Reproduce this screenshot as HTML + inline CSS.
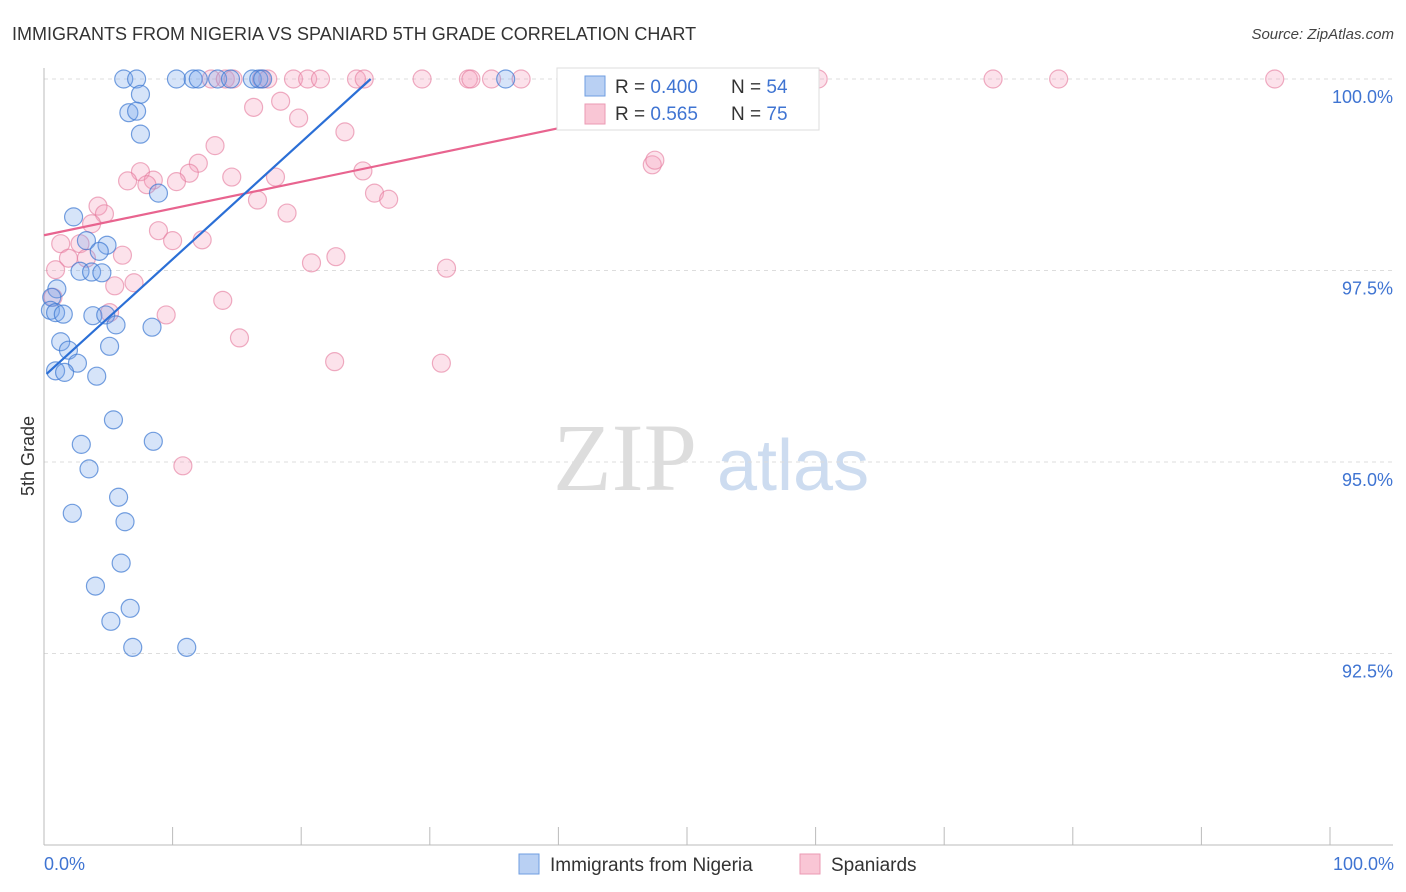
<!DOCTYPE html>
<html><head><meta charset="utf-8">
<style>
body{margin:0;background:#fff;font-family:"Liberation Sans",sans-serif;}
svg{display:block}
</style></head>
<body>
<svg id="chart" width="1406" height="892" xmlns="http://www.w3.org/2000/svg" font-family="Liberation Sans, sans-serif">
<text x="12" y="40" font-size="18" fill="#333">IMMIGRANTS FROM NIGERIA VS SPANIARD 5TH GRADE CORRELATION CHART</text>
<text x="1394" y="39" font-size="15" fill="#444" text-anchor="end" font-style="italic">Source: ZipAtlas.com</text>
<text x="553" y="490" font-size="96" fill="#ddd" font-family="Liberation Serif, serif">ZIP</text>
<text x="717" y="490" font-size="72" fill="#cddcf0">atlas</text>
<g id="grid"></g>
<g id="axes"></g>
<g id="pinkpts"></g>
<g id="bluepts"></g>
<g id="trends"></g>
<text transform="translate(34,456) rotate(-90)" font-size="18" fill="#333" text-anchor="middle">5th Grade</text>
<g>
<rect x="557" y="68" width="262" height="62" fill="#fff" stroke="#ddd"/>
<rect x="585" y="76" width="20" height="20" fill="#b9d0f3" stroke="#6f9ee0"/>
<rect x="585" y="104" width="20" height="20" fill="#f9c6d5" stroke="#eb9ab3"/>
<text x="615" y="93" font-size="19" fill="#333">R = <tspan fill="#3f74d2">0.400</tspan></text>
<text x="731" y="93" font-size="19" fill="#333">N = <tspan fill="#3f74d2">54</tspan></text>
<text x="615" y="120" font-size="19" fill="#333">R = <tspan fill="#3f74d2"> 0.565</tspan></text>
<text x="731" y="120" font-size="19" fill="#333">N = <tspan fill="#3f74d2">75</tspan></text>
</g>
<g>
<rect x="519" y="854" width="20" height="20" fill="#b9d0f3" stroke="#6f9ee0"/>
<text x="550" y="871" font-size="19" fill="#333">Immigrants from Nigeria</text>
<rect x="800" y="854" width="20" height="20" fill="#f9c6d5" stroke="#eb9ab3"/>
<text x="831" y="871" font-size="19" fill="#333">Spaniards</text>
</g>
</svg>
<script>
const yTicks=[100,97.5,95,92.5];
const yTickLabels=["100.0%","97.5%","95.0%","92.5%"];
const xTickLabels=["0.0%","100.0%"];
const blueX=[6.2,7.2,10.3,11.6,12.0,13.5,14.5,16.2,16.7,17.0,35.9,7.5,6.6,7.2,7.5,8.9,2.3,3.3,4.9,4.3,2.8,3.7,4.5,1.0,0.6,0.5,0.9,1.5,3.8,4.8,5.6,8.4,5.1,1.3,1.9,2.6,0.9,1.6,4.1,5.4,2.9,8.5,3.5,5.8,2.2,6.3,6.0,4.0,6.7,5.2,6.9,11.1];
const blueY=[100,100,100,100,100,100,100,100,100,100,100,99.8,99.56,99.58,99.28,98.51,98.2,97.89,97.83,97.75,97.49,97.48,97.47,97.26,97.15,96.98,96.95,96.93,96.91,96.92,96.79,96.76,96.51,96.57,96.46,96.29,96.19,96.17,96.12,95.55,95.23,95.27,94.91,94.54,94.33,94.22,93.68,93.38,93.09,92.92,92.58,92.58];
const pinkX=[13.0,14.1,14.7,16.9,17.4,19.4,20.5,21.5,24.3,24.9,29.4,33.0,33.2,34.8,37.1,40.7,41.4,43.3,45.4,50.6,52.0,57.2,60.2,73.8,78.9,95.7,16.3,18.4,19.8,23.4,13.3,12.0,7.5,11.3,6.5,8.5,8.0,10.3,14.6,18.0,24.8,16.6,25.7,26.8,18.9,4.2,4.7,3.7,8.9,10.0,12.3,1.3,2.8,6.1,1.9,3.3,20.8,22.7,31.3,0.9,5.5,7.0,0.7,13.9,5.1,9.5,15.2,22.6,30.9,10.8,47.3,47.5];
const pinkY=[100,100,100,100,100,100,100,100,100,100,100,100,100,100,100,100,100,100,100,100,100,100,100,100,100,100,99.63,99.71,99.49,99.31,99.13,98.9,98.79,98.77,98.67,98.68,98.62,98.66,98.72,98.72,98.8,98.42,98.51,98.43,98.25,98.34,98.24,98.11,98.02,97.89,97.9,97.85,97.85,97.7,97.66,97.66,97.6,97.68,97.53,97.51,97.3,97.34,97.15,97.11,96.95,96.92,96.62,96.31,96.29,94.95,98.88,98.94];
const blueTrendX=[0.2,25.4], blueTrendY=[96.15,100];
const pinkTrendX=[0,58.4], pinkTrendY=[97.96,100];

const NS="http://www.w3.org/2000/svg";
const X0=44,X1=1330,YTOP=79,PXPER=76.6;
const sx=v=>X0+(X1-X0)*v/100;
const sy=v=>YTOP+(100-v)*PXPER;
function mk(tag,attrs,parent){const e=document.createElementNS(NS,tag);for(const k in attrs)e.setAttribute(k,attrs[k]);parent.appendChild(e);return e;}
const grid=document.getElementById('grid'),axes=document.getElementById('axes');
yTicks.forEach((t,i)=>{
  const l=mk('line',{x1:44,x2:1393,y1:sy(t),y2:sy(t),stroke:'#ddd','stroke-dasharray':'4,4'},grid);
  
  
  const tx=mk('text',{x:1393,y:sy(t)+24,'font-size':18,fill:'#3f74d2','text-anchor':'end'},axes);
  tx.textContent=yTickLabels[i];
  
  
});
const ya=mk('line',{x1:44,x2:44,y1:68,y2:845,stroke:'#bbb'},axes);


const xa=mk('line',{x1:44,x2:1393,y1:845,y2:845,stroke:'#bbb'},axes);


for(let i=0;i<=10;i++){
  const t=mk('line',{x1:sx(i*10),x2:sx(i*10),y1:827,y2:845,stroke:'#bbb'},axes);
  
  
}
[[0,'start',44],[100,'end',1394]].forEach((d,i)=>{
  const tx=mk('text',{x:d[2],y:870,'font-size':18,fill:'#3f74d2','text-anchor':d[1]},axes);
  tx.textContent=xTickLabels[i];
  
  
});
const pg=document.getElementById('pinkpts'),bg=document.getElementById('bluepts');
pinkX.forEach((x,i)=>{
  const c=mk('circle',{cx:sx(x),cy:sy(pinkY[i]),r:9,fill:'rgba(244,160,188,0.3)',stroke:'rgba(228,120,155,0.6)','stroke-width':1.2},pg);
  
  
});
blueX.forEach((x,i)=>{
  const c=mk('circle',{cx:sx(x),cy:sy(blueY[i]),r:9,fill:'rgba(120,165,235,0.3)',stroke:'rgba(60,120,210,0.7)','stroke-width':1.2},bg);
  
  
});
const tg=document.getElementById('trends');
const pl=mk('line',{x1:sx(pinkTrendX[0]),y1:sy(pinkTrendY[0]),x2:sx(pinkTrendX[1]),y2:sy(pinkTrendY[1]),stroke:'#e8648f','stroke-width':2.2},tg);


const bl=mk('line',{x1:sx(blueTrendX[0]),y1:sy(blueTrendY[0]),x2:sx(blueTrendX[1]),y2:sy(blueTrendY[1]),stroke:'#2b6fd6','stroke-width':2.2},tg);


</script>
</body></html>
